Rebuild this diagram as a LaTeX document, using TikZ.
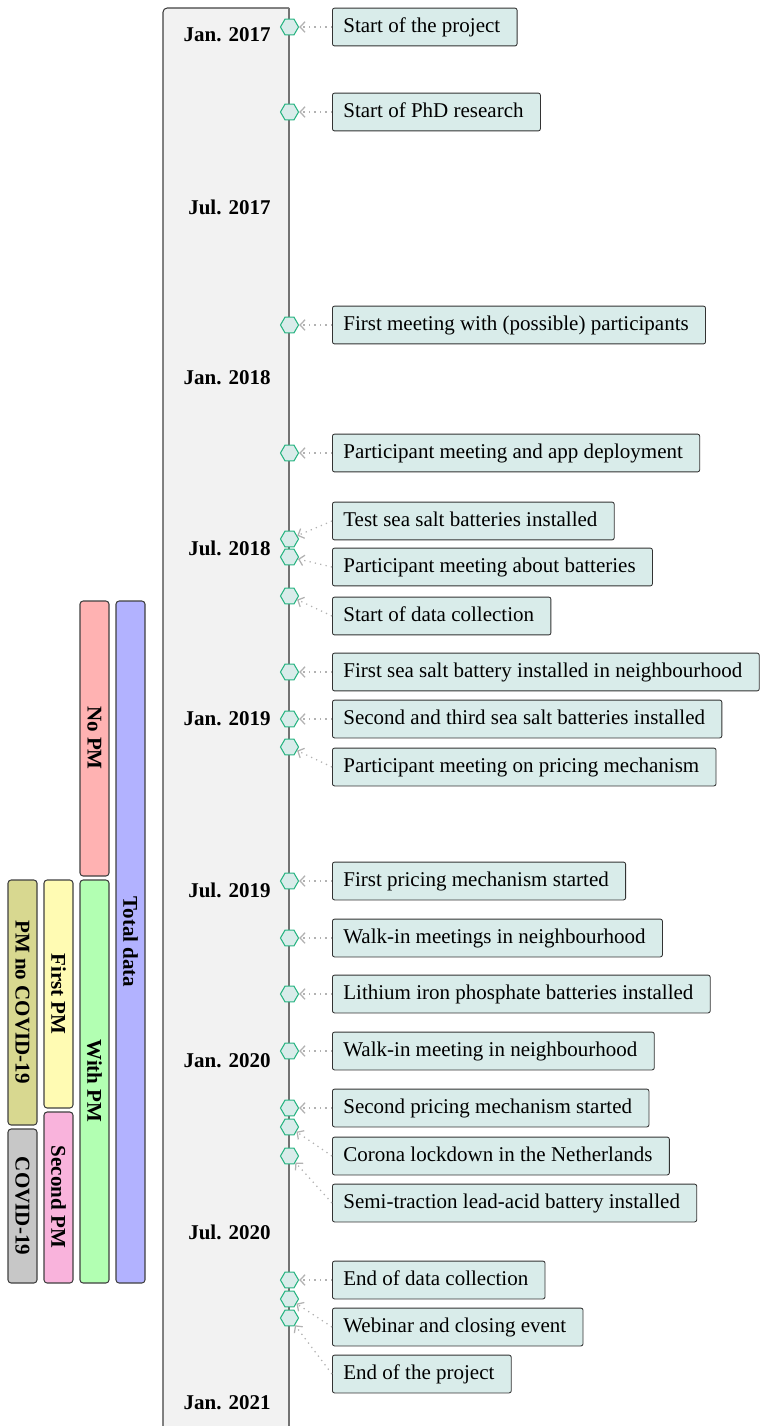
\documentclass[tikz,border=0pt]{standalone}
\usepackage{fontspec}
\setmainfont{Liberation Serif}
\usetikzlibrary{shapes.geometric,arrows.meta}
\definecolor{boxfill}{RGB}{217,236,234}
\definecolor{mkgreen}{RGB}{40,180,130}
\definecolor{olivebar}{RGB}{216,216,144}
\tikzset{
  evbox/.style={draw=black!80, fill=boxfill, rounded corners=1pt, anchor=west,
    inner xsep=5.2pt, minimum height=18pt, text height=7pt, text depth=2pt, font=\fontsize{10}{12}\selectfont},
  mk/.style={regular polygon, regular polygon sides=6, draw=mkgreen, fill=boxfill,
    minimum size=8.6pt, inner sep=0pt, line width=0.5pt},
  conn/.style={draw=black!30, dotted, line width=0.6pt, -{Straight Barb[length=2.4pt,width=5pt]}},
  datelbl/.style={anchor=east, inner sep=0pt, font=\fontsize{10}{12}\selectfont\bfseries},
  bar/.style={draw=black!75, rounded corners=1.5pt, line width=0.5pt},
  barlbl/.style={rotate=-90, font=\fontsize{10}{12}\selectfont\bfseries},
}
\begin{document}
\begin{tikzpicture}[x=0.476pt,y=-0.476pt]
\clip (0,0) rectangle (762,1426);
% timeline background
\draw[fill=black!5, draw=black!75, line width=0.5pt, rounded corners=2pt] (289,1440) -- (163,1440) -- (163,8) -- (289,8);
\draw[black!55, line width=1pt] (289,8) -- (289,1440);
% date labels
\foreach \y/\t [count=\i] in {35/Jan. 2017, 207/Jul. 2017, 378/Jan. 2018, 548/Jul. 2018, 719/Jan. 2019, 890/Jul. 2019, 1061/Jan. 2020, 1232/Jul. 2020, 1403/Jan. 2021}
  \node[datelbl] (d\i) at (271,\y) {\t};
% events
\foreach \my/\by/\t [count=\i] in {
  27/27/Start of the project,
  112/112/Start of PhD research,
  325/325/First meeting with (possible) participants,
  453/453/Participant meeting and app deployment,
  539/521/Test sea salt batteries installed,
  557/567/Participant meeting about batteries,
  596/616/Start of data collection,
  672/672/First sea salt battery installed in neighbourhood,
  719/719/Second and third sea salt batteries installed,
  747/767/Participant meeting on pricing mechanism,
  881/881/First pricing mechanism started,
  938/938/Walk-in meetings in neighbourhood,
  994/994/Lithium iron phosphate batteries installed,
  1051/1051/Walk-in meeting in neighbourhood,
  1108/1108/Second pricing mechanism started,
  1127/1156/Corona lockdown in the Netherlands,
  1156/1203/Semi-traction lead-acid battery installed,
  1280/1280/End of data collection,
  1299/1327/Webinar and closing event,
  1318/1374/End of the project}
{
  \node[mk] (m\i) at (289.5,\my) {};
  \node[evbox] (b\i) at (332,\by) {\t\kern2.8pt\relax};
  \draw[conn] (b\i.west) -- (m\i);
}
% data period bars
\draw[bar, fill=blue!30] (116,601) rectangle (145,1283);
\node[barlbl] (lt) at (130.5,942) {Total data};
\draw[bar, fill=red!30] (80,601) rectangle (109,876);
\node[barlbl] (lnp) at (94.5,738) {No PM};
\draw[bar, fill=green!30] (80,880) rectangle (109,1283);
\node[barlbl] (lwp) at (94.5,1081) {With PM};
\draw[bar, fill=yellow!30] (44,880) rectangle (73,1108);
\node[barlbl] (lfp) at (58.5,994) {First PM};
\draw[bar, fill=magenta!30] (44,1112) rectangle (73,1283);
\node[barlbl] (lsp) at (58.5,1197) {Second PM};
\draw[bar, fill=olivebar] (8,880) rectangle (37,1125);
\node[barlbl] (lpn) at (22.5,1002) {PM no COVID-19};
\draw[bar, fill=black!22] (8,1129) rectangle (37,1283);
\node[barlbl] (lc) at (22.5,1206) {COVID-19};
\end{tikzpicture}
\end{document}
